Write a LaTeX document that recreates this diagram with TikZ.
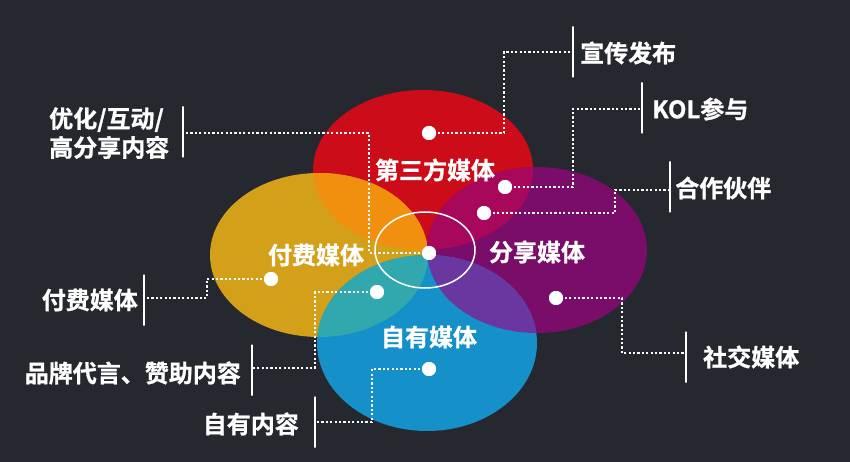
\documentclass[tikz,border=0pt]{standalone}
\usepackage{fontspec}
\newfontfamily\cjk{Noto Sans CJK SC}[BoldFont={Noto Sans CJK SC Bold},BoldFeatures={FakeBold=1}]
\definecolor{bg}{HTML}{262830}
\definecolor{cRed}{HTML}{CC0C18}
\definecolor{cGold}{HTML}{D4A01A}
\definecolor{cPurple}{HTML}{7A0C6A}
\definecolor{cBlue}{HTML}{1590C8}
\definecolor{cRO}{HTML}{F0900E}
\definecolor{cRP}{HTML}{A8085C}
\definecolor{cGB}{HTML}{30A8AE}
\definecolor{cPB}{HTML}{6A36A0}
\tikzset{
  lbl/.style={text=white,inner sep=0pt,font=\cjk\bfseries\fontsize{24}{29}\selectfont},
  dotline/.style={white,line width=2.4pt,dash pattern=on 2.2pt off 2.2pt},
  wdot/.style={circle,fill=white,minimum size=14pt,inner sep=0pt},
  bar/.style={draw=white,line width=2.6pt,minimum width=0pt,minimum height=51pt,inner sep=0pt}
}
\begin{document}
\begin{tikzpicture}[x=1pt,y=-1pt]
\useasboundingbox (0,0) rectangle (850,462);
\fill[bg] (0,0) rectangle (850,462);
% ellipses
\def\eRed{(423,170) ellipse [x radius=110pt, y radius=80pt]}
\def\eGold{(319,255) ellipse [x radius=109pt, y radius=82pt]}
\def\ePurple{(537,250) ellipse [x radius=110pt, y radius=83pt]}
\def\eBlue{(427,343) ellipse [x radius=110pt, y radius=88pt]}
\fill[cRed] \eRed;
\fill[cGold] \eGold;
\fill[cPurple] \ePurple;
\fill[cBlue] \eBlue;
\begin{scope}\clip \eRed; \fill[cRO] \eGold; \end{scope}
\begin{scope}\clip \eRed; \fill[cRP] \ePurple; \end{scope}
\begin{scope}\clip \eGold; \fill[cGB] \eBlue; \end{scope}
\begin{scope}\clip \ePurple; \fill[cPB] \eBlue; \end{scope}
\draw[white,line width=1.5pt] (425,250) ellipse [x radius=50pt, y radius=38pt];
% dots
\node[wdot] (d1) at (429,133) {};
\node[wdot] (d2) at (505,187) {};
\node[wdot] (d3) at (484,213) {};
\node[wdot] (d4) at (429,253) {};
\node[wdot] (d5) at (271,279) {};
\node[wdot] (d6) at (377,292) {};
\node[wdot] (d7) at (556,298) {};
\node[wdot] (d8) at (429,369) {};
% bars
\node[bar] (b1) at (573,52) {};
\node[bar] (b2) at (642,108) {};
\node[bar] (b3) at (670,187) {};
\node[bar] (b4) at (686,357) {};
\node[bar] (b5) at (183,132) {};
\node[bar] (b6) at (144,300) {};
\node[bar] (b7) at (252,370) {};
\node[bar] (b8) at (315,422) {};
% corners
\coordinate (c1) at (504,52);
\coordinate (c2) at (573,109);
\coordinate (c3) at (615,190);
\coordinate (c4) at (622,353);
\coordinate (c5) at (369,133);
\coordinate (c6) at (207,298);
\coordinate (c7) at (315,368);
\coordinate (c8) at (372,422);
% connectors
\draw[dotline] (d1.center) -| (c1) -- (c1 -| b1);
\draw[dotline] (d2.center) -| (c2) -- (c2 -| b2);
\draw[dotline] (d3.center) -| (c3) -- (c3 -| b3);
\draw[dotline] (d7.center) -| (c4) -- (c4 -| b4);
\draw[dotline] (d4.center) -| (c5) -- (c5 -| b5);
\draw[dotline] (d5.center) -| (c6) -- (c6 -| b6);
\draw[dotline] (d6.center) -| (c7) -- (c7 -| b7);
\draw[dotline] (d8.center) -| (c8) -- (c8 -| b8);
% redraw dots on top
\foreach \d in {d1,d2,d3,d4,d5,d6,d7,d8} \fill[white] (\d.center) circle (7pt);
% inner labels
\node[lbl] (t1) at (435,170) {第三方媒体};
\node[lbl] (t2) at (316,255) {付费媒体};
\node[lbl] (t3) at (537,252) {分享媒体};
\node[lbl] (t4) at (429,337) {自有媒体};
% outer labels
\node[lbl,anchor=west] (l1) at (580,53) {宣传发布};
\node[lbl,anchor=west] (l2) at (652,109) {KOL参与};
\node[lbl,anchor=west] (l3) at (675,188) {合作伙伴};
\node[lbl,anchor=west] (l4) at (703,357) {社交媒体};
\node[lbl,anchor=west,align=left] (l5) at (49,133) {优化/互动/\\高分享内容};
\node[lbl,anchor=east] (l6) at (138,300) {付费媒体};
\node[lbl,anchor=east] (l7) at (241,373) {品牌代言、赞助内容};
\node[lbl,anchor=east] (l8) at (299,424) {自有内容};
\end{tikzpicture}
\end{document}
